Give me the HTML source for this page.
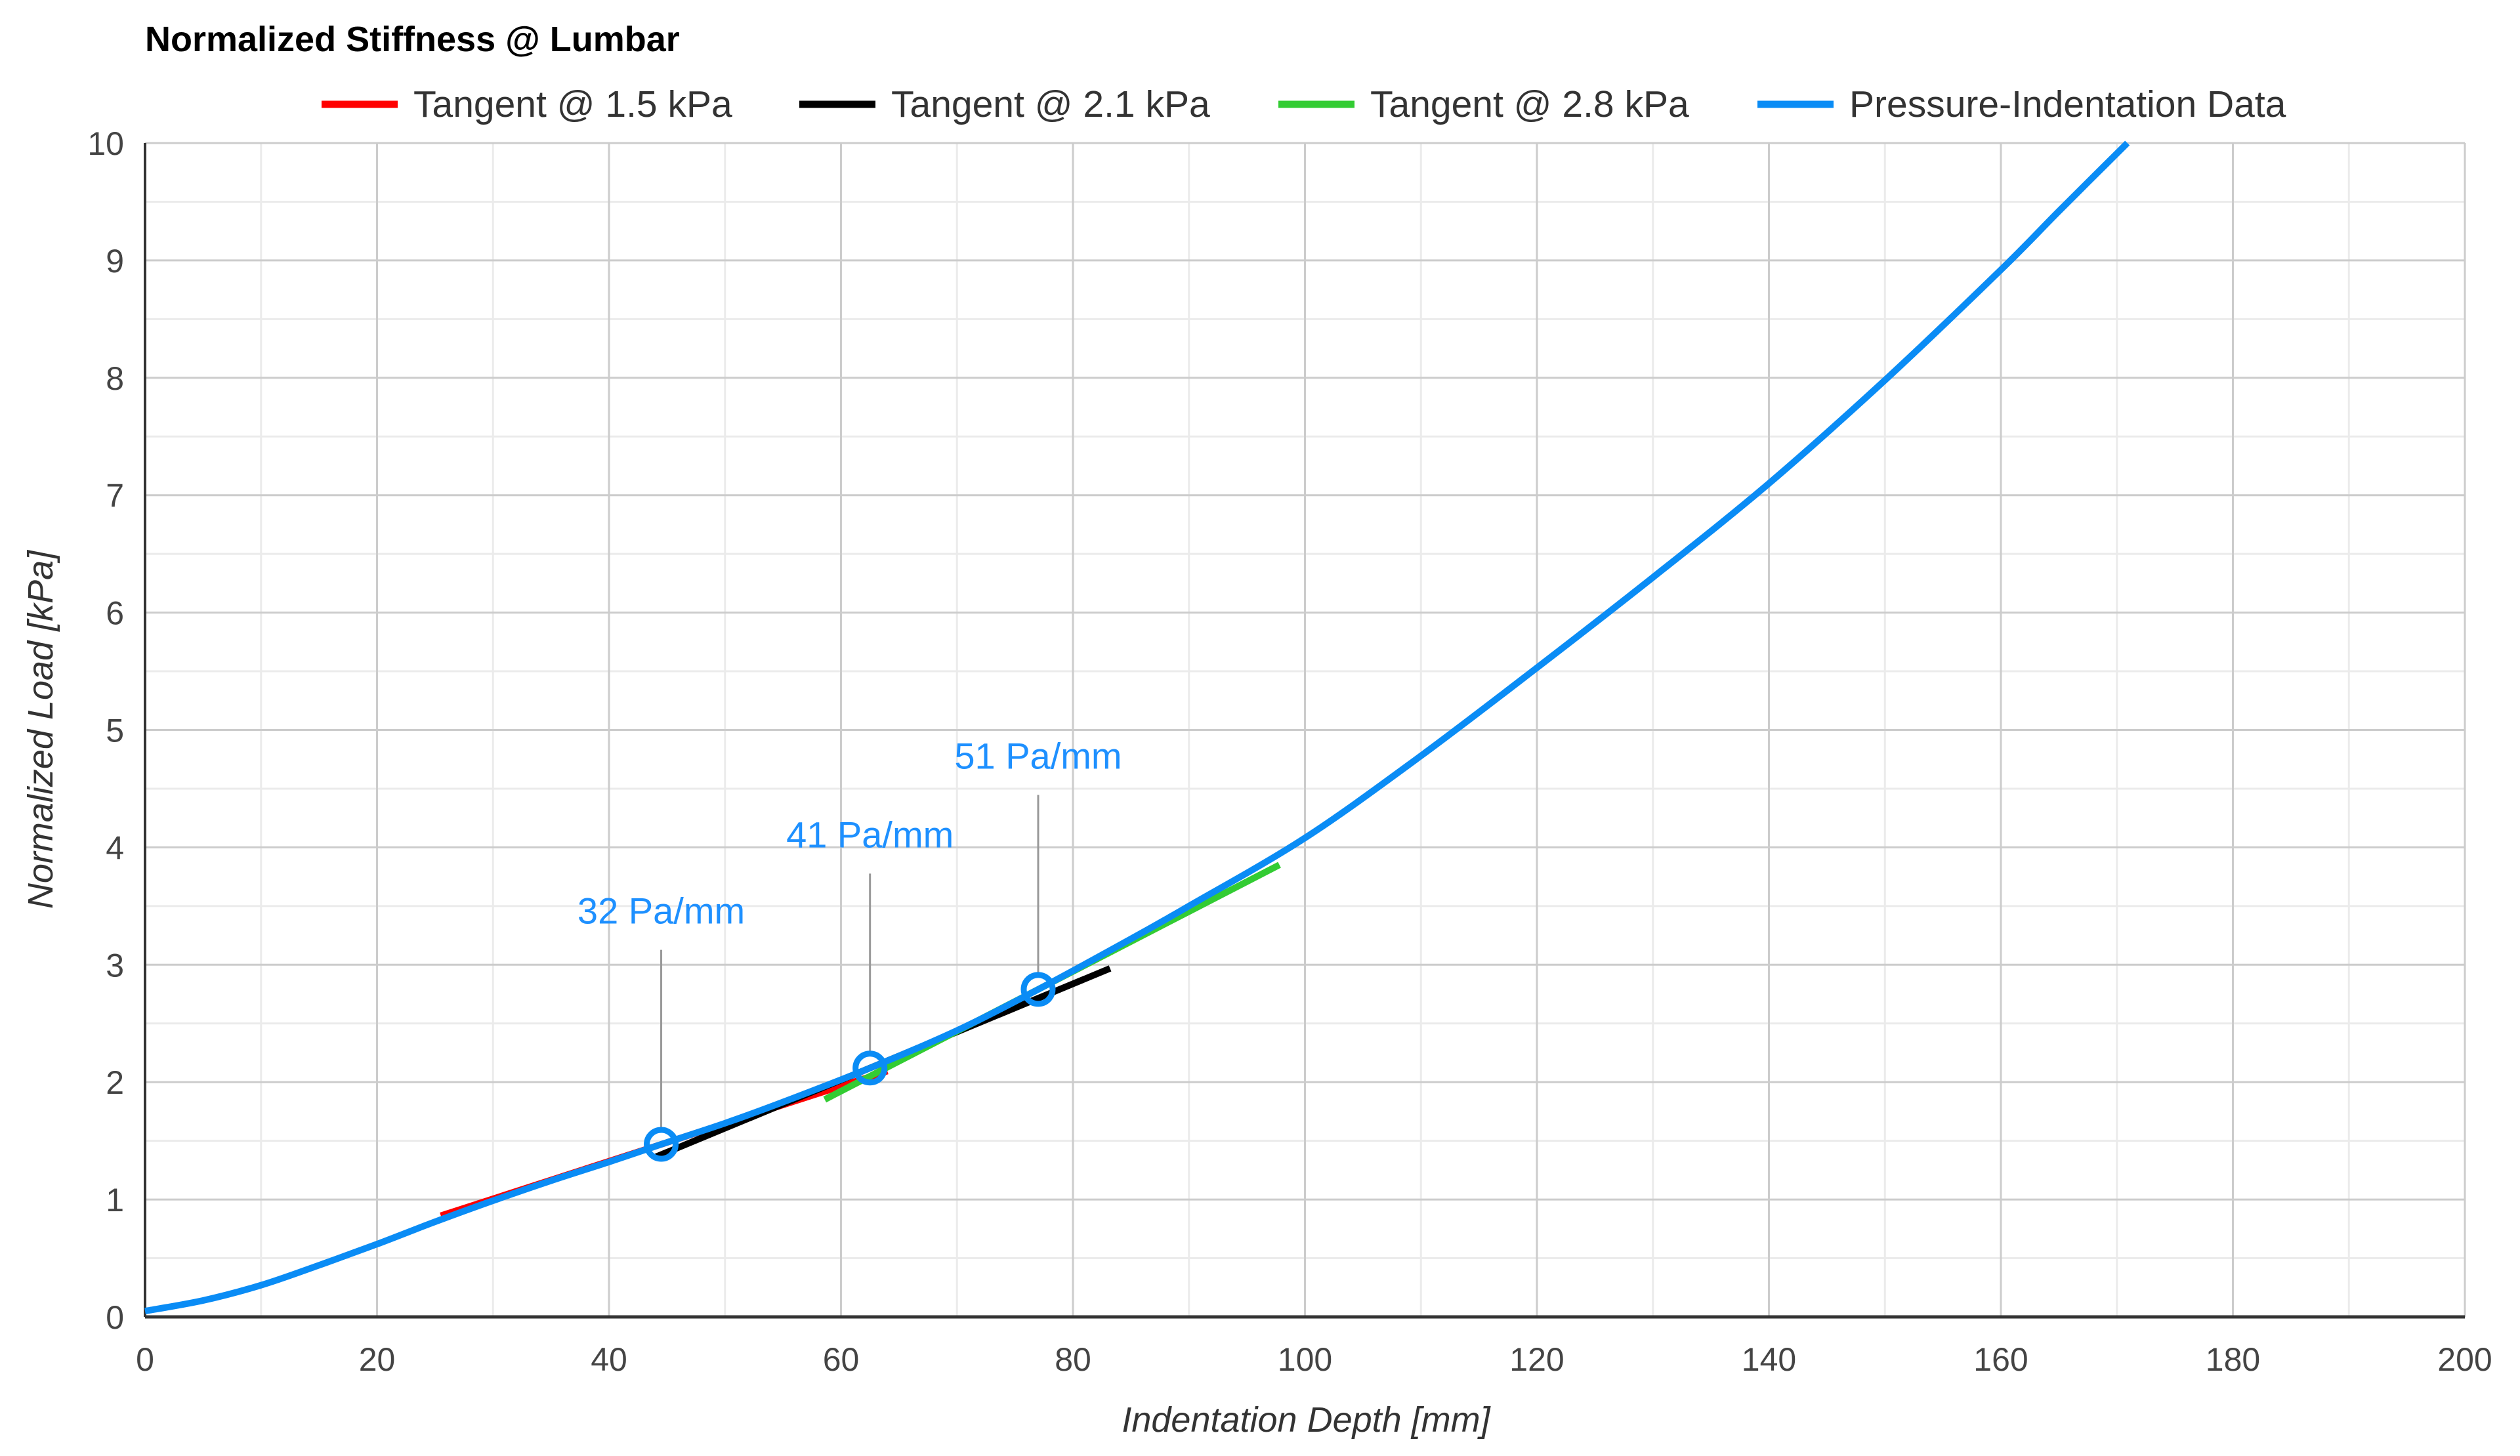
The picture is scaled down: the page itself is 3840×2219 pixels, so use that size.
<!DOCTYPE html>
<html><head><meta charset="utf-8"><style>
html,body{margin:0;padding:0;background:#fff}
svg{display:block;font-family:"Liberation Sans",sans-serif}
</style></head><body>
<svg id="chart" width="3840" height="2219" viewBox="0 0 3840 2219" xmlns="http://www.w3.org/2000/svg">
<text x="221" y="78" font-size="54" font-weight="bold" fill="#000">Normalized Stiffness @ Lumbar</text>
<g id="grid"></g>
<g id="axes"></g>
<g id="series"></g>
<g id="legend"></g>
<text x="1990" y="2182" font-size="54" font-style="italic" fill="#333" text-anchor="middle">Indentation Depth [mm]</text>
<text transform="translate(80,1112) rotate(-90)" font-size="54" font-style="italic" fill="#333" text-anchor="middle">Normalized Load [kPa]</text>
</svg>
<script>
const xTicks=[0,20,40,60,80,100,120,140,160,180,200];
const yTicks=[0,1,2,3,4,5,6,7,8,9,10];
const curveX=[0,5,10,15,20,25,30,35,40,44.5,50,55,62.5,70,77,85,90,100,110,120,130,140,150,160,165,170.9];
const curveY=[0.05,0.14,0.27,0.44,0.62,0.81,0.99,1.16,1.32,1.47,1.65,1.83,2.12,2.44,2.79,3.22,3.5,4.08,4.78,5.53,6.3,7.1,7.98,8.92,9.42,10];
const tanNames=["Tangent @ 1.5 kPa","Tangent @ 2.1 kPa","Tangent @ 2.8 kPa"];
const tanColors=["#ff0000","#000000","#33cc33"];
const tanX0=[25.5,44,58.6];
const tanX1=[64,83.2,97.8];
const tanPx=[44.5,62.5,77];
const tanPy=[1.47,2.12,2.79];
const tanSlope=[0.032,0.041,0.051];
const tanLabels=["32 Pa/mm","41 Pa/mm","51 Pa/mm"];
const labelY=[3.35,4.0,4.67];

const L=221,R=3756,T=218,B=2007;
const X=v=>L+(v/200)*(R-L);
const Y=v=>B-(v/10)*(B-T);
const NS="http://www.w3.org/2000/svg";
function mk(tag,parent,attrs){const e=document.createElementNS(NS,tag);for(const k in attrs)e.setAttribute(k,attrs[k]);parent.appendChild(e);return e;}
const grid=document.getElementById('grid'),axes=document.getElementById('axes'),series=document.getElementById('series'),legend=document.getElementById('legend');
for(let i=0;i<xTicks.length-1;i++){const m=(xTicks[i]+xTicks[i+1])/2;
 const g=mk('line',grid,{x1:X(m),x2:X(m),y1:T,y2:B,stroke:'#ebebeb','stroke-width':3});
 }
for(let i=0;i<yTicks.length-1;i++){const m=(yTicks[i]+yTicks[i+1])/2;
 const g=mk('line',grid,{x1:L,x2:R,y1:Y(m),y2:Y(m),stroke:'#ebebeb','stroke-width':3});
 }
xTicks.forEach(t=>{if(t>0){const g=mk('line',grid,{x1:X(t),x2:X(t),y1:T,y2:B,stroke:'#cccccc','stroke-width':3});
 }
 const tx=mk('text',axes,{x:X(t),y:B+82,'font-size':50,fill:'#444','text-anchor':'middle'});tx.textContent=t;
 });
yTicks.forEach(t=>{if(t>0){const g=mk('line',grid,{x1:L,x2:R,y1:Y(t),y2:Y(t),stroke:'#cccccc','stroke-width':3});
 }
 const tx=mk('text',axes,{x:L-32,y:Y(t)+18,'font-size':50,fill:'#444','text-anchor':'end'});tx.textContent=t;
 });
const ya=mk('line',axes,{x1:L,x2:L,y1:T,y2:B,stroke:'#333','stroke-width':4});

const xa=mk('line',axes,{x1:L,x2:R,y1:B,y2:B,stroke:'#333','stroke-width':5});


tanNames.forEach((n,i)=>{
 const y0=tanPy[i]+tanSlope[i]*(tanX0[i]-tanPx[i]),y1=tanPy[i]+tanSlope[i]*(tanX1[i]-tanPx[i]);
 const l=mk('line',series,{x1:X(tanX0[i]),y1:Y(y0),x2:X(tanX1[i]),y2:Y(y1),stroke:tanColors[i],'stroke-width':10});
 
});
// smooth curve (Catmull-Rom to Bezier)
const P=curveX.map((x,i)=>[X(x),Y(curveY[i])]);
let d='M'+P[0][0].toFixed(1)+','+P[0][1].toFixed(1);
for(let i=0;i<P.length-1;i++){
 const p0=P[Math.max(0,i-1)],p1=P[i],p2=P[i+1],p3=P[Math.min(P.length-1,i+2)];
 const c1=[p1[0]+(p2[0]-p0[0])/6,p1[1]+(p2[1]-p0[1])/6];
 const c2=[p2[0]-(p3[0]-p1[0])/6,p2[1]-(p3[1]-p1[1])/6];
 d+='C'+c1[0].toFixed(1)+','+c1[1].toFixed(1)+' '+c2[0].toFixed(1)+','+c2[1].toFixed(1)+' '+p2[0].toFixed(1)+','+p2[1].toFixed(1);
}
const c=mk('path',series,{d:d,fill:'none',stroke:'#0a8cf5','stroke-width':10,'stroke-linejoin':'round'});

tanPx.forEach((x,i)=>{
 const ld=mk('line',series,{x1:X(x),x2:X(x),y1:Y(labelY[i])+40,y2:Y(tanPy[i])-22,stroke:'#999','stroke-width':3});
 
 const cc=mk('circle',series,{cx:X(x),cy:Y(tanPy[i]),r:22,fill:'none',stroke:'#0a8cf5','stroke-width':9});
 
 const tx=mk('text',series,{x:X(x),y:Y(labelY[i]),'font-size':56,fill:'#1e90ff','text-anchor':'middle'});tx.textContent=tanLabels[i];
 
});
const legNames=tanNames.concat(["Pressure-Indentation Data"]);
const legColors=tanColors.concat(["#0a8cf5"]);
const legX=[490,1218,1948,2678];
legNames.forEach((n,i)=>{
 const s=mk('line',legend,{x1:legX[i],x2:legX[i]+116,y1:159,y2:159,stroke:legColors[i],'stroke-width':11});
 
 const t=mk('text',legend,{x:legX[i]+140,y:178,'font-size':57,fill:'#333'});t.textContent=n;
 
});
</script>
</body></html>
